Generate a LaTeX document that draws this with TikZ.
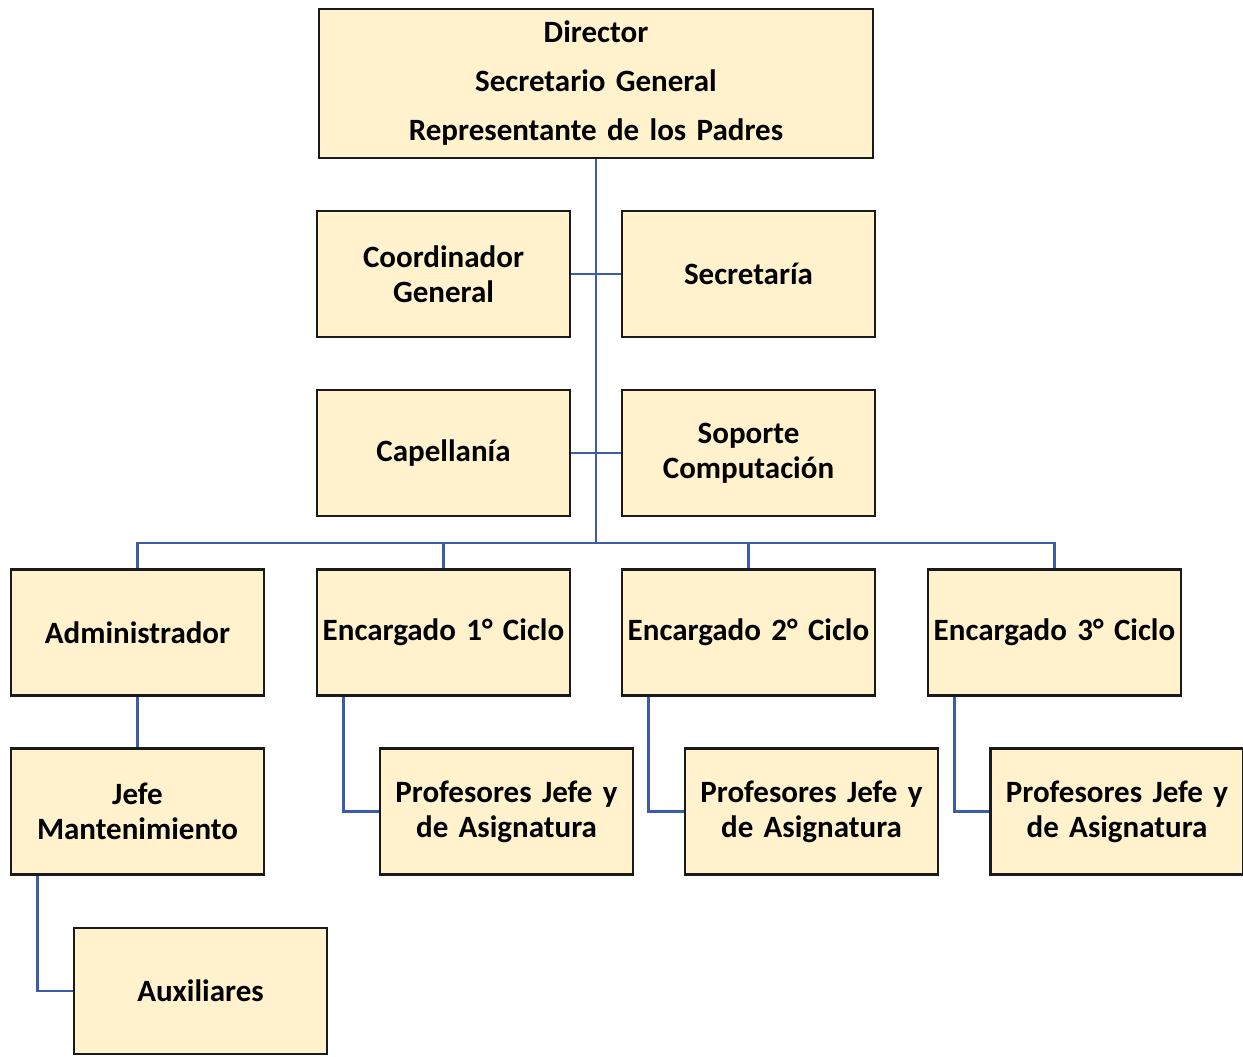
\documentclass[tikz,border=0pt]{standalone}
\usepackage{fontspec}
\setmainfont{Carlito}
\definecolor{boxfill}{HTML}{FFF2CC}
\definecolor{linkblue}{HTML}{3B5DA9}
\definecolor{boxline}{HTML}{1A1A1A}
\begin{document}
\begin{tikzpicture}[x=1pt,y=-1pt,
  unit/.style={draw=boxline,line width=2.2pt,fill=boxfill,minimum width=253pt,minimum height=126pt,
    inner sep=1pt,align=center,font=\bfseries\fontsize{31}{35}\selectfont,text width=251pt},
  link/.style={draw=linkblue,line width=2.4pt}]
\useasboundingbox (0,0) rectangle (1243,1057);
\node[unit,minimum width=554pt,minimum height=149pt,text width=540pt,font=\bfseries\fontsize{31}{49}\selectfont] (dir) at (596,83.5) {Director\\Secretario General\\Representante de los Padres};
\node[unit] (coord) at (443.5,274) {Coordinador\\General};
\node[unit] (secr) at (748.5,274) {Secretaría};
\node[unit] (cap) at (443.5,453) {Capellanía};
\node[unit] (sop) at (748.5,453) {Soporte\\Computación};
\node[unit] (adm) at (137.5,632.5) {Administrador};
\node[unit] (enc1) at (443.5,632.5) {Encargado 1° Ciclo};
\node[unit] (enc2) at (748.5,632.5) {Encargado 2° Ciclo};
\node[unit] (enc3) at (1054.5,632.5) {Encargado 3° Ciclo};
\node[unit] (jefe) at (137.5,811.5) {Jefe\\Mantenimiento};
\node[unit] (prof1) at (506.5,811.5) {Profesores Jefe y\\de Asignatura};
\node[unit] (prof2) at (811.5,811.5) {Profesores Jefe y\\de Asignatura};
\node[unit] (prof3) at (1117,811.5) {Profesores Jefe y\\de Asignatura};
\node[unit] (aux) at (200.5,991) {Auxiliares};
\coordinate (bus) at (596,543);
% connectors
\draw[link] (dir.south) -- (bus);
\draw[link] (coord.east) -- (secr.west);
\draw[link] (cap.east) -- (sop.west);
\draw[link] (adm.north) |- (bus) -| (enc3.north);
\draw[link] (enc1.north) -- (enc1.north |- bus);
\draw[link] (enc2.north) -- (enc2.north |- bus);
\draw[link] (adm.south) -- (jefe.north);
\draw[link] ([xshift=-100pt]enc1.south) |- (prof1.west);
\draw[link] ([xshift=-100pt]enc2.south) |- (prof2.west);
\draw[link] ([xshift=-100pt]enc3.south) |- (prof3.west);
\draw[link] ([xshift=-100pt]jefe.south) |- (aux.west);
\end{tikzpicture}
\end{document}
